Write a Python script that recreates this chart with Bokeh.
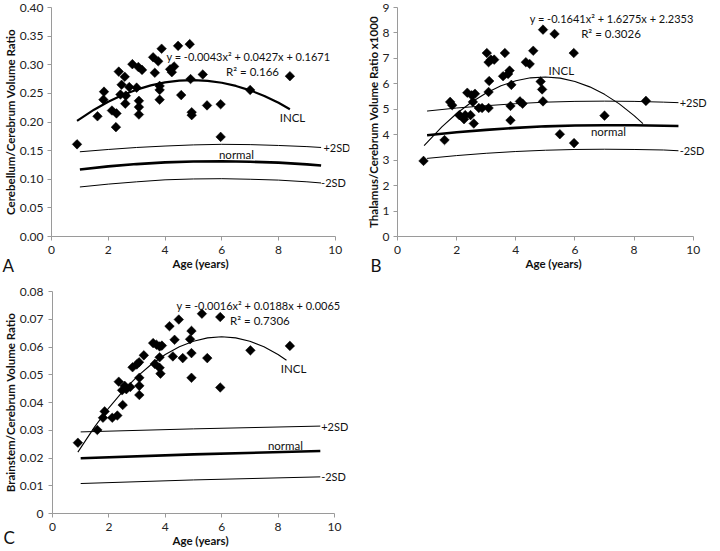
from bokeh.plotting import figure
from bokeh.models import Range1d, FixedTicker, Label, Title
from bokeh.layouts import column, row
from bokeh.embed import file_html
from bokeh.resources import INLINE

FONT = "Lato"

# ---------------- data ----------------
x_ticks = [0, 2, 4, 6, 8, 10]
x_tick_labels = ["0", "2", "4", "6", "8", "10"]

# Panel A: cerebellum / cerebrum
a_yticks = [0.0, 0.05, 0.10, 0.15, 0.20, 0.25, 0.30, 0.35, 0.40]
a_ytick_labels = ["0.00", "0.05", "0.10", "0.15", "0.20", "0.25", "0.30", "0.35", "0.40"]
a_age = [0.90, 1.62, 1.83, 1.85, 2.13, 2.29, 2.27, 2.37, 2.47, 2.43, 2.58, 2.60, 2.62, 2.74, 2.85,
         3.00, 3.08, 3.08, 3.08, 3.06, 3.19, 3.58, 3.64, 3.76, 3.88, 3.81, 3.81, 3.81, 4.18, 4.24,
         4.32, 4.46, 4.57, 4.87, 4.90, 4.94, 4.94, 5.33, 5.48, 5.96, 5.96, 7.00, 8.40]
a_ratio = [0.161, 0.210, 0.239, 0.253, 0.220, 0.215, 0.191, 0.288, 0.265, 0.248, 0.279, 0.232, 0.246, 0.261, 0.301,
           0.260, 0.237, 0.226, 0.213, 0.296, 0.291, 0.313, 0.286, 0.306, 0.328, 0.263, 0.256, 0.239, 0.292, 0.287,
           0.297, 0.333, 0.247, 0.336, 0.275, 0.217, 0.212, 0.283, 0.229, 0.231, 0.174, 0.256, 0.280]
a_fit_age = [0.9, 1.5, 2.0, 2.5, 3.0, 3.5, 4.0, 4.5, 5.0, 5.5, 6.0, 6.5, 7.0, 7.5, 8.0, 8.4]
a_fit = [0.2020, 0.2215, 0.2353, 0.2470, 0.2565, 0.2639, 0.2691, 0.2722, 0.2731, 0.2719, 0.2685,
         0.2630, 0.2553, 0.2455, 0.2335, 0.2224]
norm_age = [1, 2, 3, 4, 5, 6, 7, 8, 9, 9.5]
a_plus2sd = [0.148, 0.152, 0.1555, 0.158, 0.160, 0.161, 0.1605, 0.159, 0.157, 0.1555]
a_normal = [0.117, 0.1225, 0.1265, 0.1295, 0.131, 0.1315, 0.1305, 0.129, 0.126, 0.124]
a_minus2sd = [0.0865, 0.0915, 0.0955, 0.099, 0.1005, 0.101, 0.100, 0.0985, 0.0955, 0.0935]

# Panel B: thalamus / cerebrum x1000
b_yticks = [0, 1, 2, 3, 4, 5, 6, 7, 8, 9]
b_ytick_labels = ["0", "1", "2", "3", "4", "5", "6", "7", "8", "9"]
b_age = [0.88, 1.59, 1.78, 1.85, 2.09, 2.29, 2.25, 2.47, 2.58, 2.36, 2.51, 2.62, 2.55, 2.75, 2.86,
         3.08, 3.08, 3.10, 3.02, 3.08, 3.16, 3.27, 3.63, 3.57, 3.74, 3.79, 3.85, 3.82, 3.82, 4.14,
         4.23, 4.34, 4.47, 4.59, 4.84, 4.89, 4.92, 4.92, 5.31, 5.49, 5.96, 5.97, 7.00, 8.40]
b_ratio = [2.97, 3.79, 5.29, 5.16, 4.77, 4.77, 4.61, 4.77, 4.44, 5.65, 5.55, 5.61, 5.29, 5.05, 5.05,
           5.05, 5.68, 6.11, 7.21, 6.85, 6.95, 6.95, 7.21, 6.30, 6.39, 6.52, 5.96, 5.13, 4.57, 5.31,
           5.22, 6.85, 6.78, 7.30, 6.09, 5.78, 5.31, 8.13, 7.96, 4.02, 7.21, 3.67, 4.75, 5.33]
bc_fit_age = [0.9, 1.5, 2.0, 2.5, 3.0, 3.5, 4.0, 4.5, 5.0, 5.5, 6.0, 6.5, 7.0, 7.5, 8.0, 8.3]
b_fit = [3.567, 4.307, 4.834, 5.278, 5.641, 5.921, 6.120, 6.236, 6.270, 6.223, 6.093, 5.881,
         5.587, 5.211, 4.753, 4.439]
b_plus2sd = [4.93, 5.05, 5.14, 5.22, 5.28, 5.31, 5.32, 5.31, 5.28, 5.26]
b_normal = [3.98, 4.10, 4.19, 4.27, 4.33, 4.36, 4.37, 4.37, 4.35, 4.34]
b_minus2sd = [3.07, 3.18, 3.27, 3.34, 3.39, 3.42, 3.43, 3.42, 3.40, 3.37]

# Panel C: brainstem / cerebrum
c_yticks = [0.0, 0.01, 0.02, 0.03, 0.04, 0.05, 0.06, 0.07, 0.08]
c_ytick_labels = ["0", "0.01", "0.02", "0.03", "0.04", "0.05", "0.06", "0.07", "0.08"]
c_age = [0.90, 1.59, 1.79, 1.85, 2.12, 2.30, 2.35, 2.49, 2.47, 2.56, 2.62, 2.76, 2.84, 2.99, 3.07,
         3.08, 3.08, 3.08, 3.24, 3.57, 3.69, 3.80, 3.88, 3.63, 3.80, 3.83, 3.80, 4.15, 4.27, 4.33,
         4.48, 4.62, 4.88, 4.93, 4.93, 4.93, 5.30, 5.49, 5.95, 5.95, 7.02, 8.42]
c_ratio = [0.0255, 0.0301, 0.0345, 0.0368, 0.0345, 0.0353, 0.0475, 0.0391, 0.0444, 0.0460, 0.0448,
           0.0456, 0.0527, 0.0537, 0.0545, 0.0489, 0.0460, 0.0427, 0.0570, 0.0614, 0.0608, 0.0602,
           0.0605, 0.0539, 0.0525, 0.0504, 0.0563, 0.0675, 0.0566, 0.0626, 0.0699, 0.0560, 0.0628,
           0.0658, 0.0578, 0.0489, 0.0720, 0.0560, 0.0708, 0.0454, 0.0588, 0.0604]
c_fit = [0.0221, 0.0313, 0.0381, 0.0441, 0.0493, 0.0537, 0.0573, 0.0601, 0.0621, 0.0633, 0.0637,
         0.0633, 0.0621, 0.0601, 0.0573, 0.0552]
c_norm_age = [1, 5, 9.5]
c_plus2sd = [0.0294, 0.0305, 0.0315]
c_normal = [0.0199, 0.0213, 0.0225]
c_minus2sd = [0.0108, 0.0121, 0.0132]

# text annotations (text, x, y)
a_texts = [("y = -0.0043x\u00b2 + 0.0427x + 0.1671", 4.05, 0.315), ("R\u00b2 = 0.166", 6.15, 0.289),
           ("INCL", 8.04, 0.207), ("+2SD", 9.58, 0.155), ("normal", 5.90, 0.143), ("-2SD", 9.50, 0.094)]
b_texts = [("y = -0.1641x\u00b2 + 1.6275x + 2.2353", 4.47, 8.58), ("R\u00b2 = 0.3026", 6.21, 7.98),
           ("INCL", 5.11, 6.52), ("+2SD", 9.54, 5.26), ("normal", 6.54, 4.14), ("-2SD", 9.54, 3.37)]
c_texts = [("y = -0.0016x\u00b2 + 0.0188x + 0.0065", 4.40, 0.0750), ("R\u00b2 = 0.7306", 6.30, 0.0697),
           ("INCL", 8.10, 0.0521), ("+2SD", 9.53, 0.0315), ("normal", 7.64, 0.0246), ("-2SD", 9.53, 0.0132)]


def make_panel(x_end, y_end, yticks, ylabels, ytitle, fw, fh, left, right, top, bottom, standoff):
    # the x range runs a little past 10 to leave room for the +2SD / -2SD labels;
    # the axis line itself stops at 10
    p = figure(x_range=Range1d(0, x_end), y_range=Range1d(0, y_end),
               frame_width=fw, frame_height=fh,
               min_border_left=left, min_border_right=right,
               min_border_top=top, min_border_bottom=bottom,
               output_backend="svg", toolbar_location=None)
    p.outline_line_color = None
    p.grid.grid_line_color = None
    p.background_fill_color = "white"
    p.border_fill_color = "white"
    for ax in (p.xaxis[0], p.yaxis[0]):
        ax.axis_line_color = "#9a9a9a"
        ax.major_tick_line_color = "#9a9a9a"
        ax.minor_tick_line_color = None
        ax.major_tick_in = 0
        ax.major_tick_out = 4
        ax.major_label_text_font = FONT
        ax.major_label_text_font_size = "12px"
        ax.major_label_text_color = "#222222"
        ax.axis_label_text_font = FONT
        ax.axis_label_text_font_size = "11.5px"
        ax.axis_label_text_font_style = "bold"
        ax.axis_label_text_color = "#111111"
    p.xaxis.bounds = (0, 10)
    p.xaxis.ticker = FixedTicker(ticks=x_ticks)
    p.xaxis.major_label_overrides = dict(zip(x_ticks, x_tick_labels))
    p.xaxis.axis_label = "Age (years)"
    p.xaxis.major_label_standoff = 5
    p.xaxis.axis_label_standoff = 0
    p.yaxis.ticker = FixedTicker(ticks=yticks)
    p.yaxis.major_label_overrides = dict(zip(yticks, ylabels))
    p.yaxis.axis_label = ytitle
    p.yaxis.major_label_standoff = standoff
    p.yaxis.axis_label_standoff = 0
    return p


def add_content(p, age, ratio, fit_age, fit, fit_w, n_age, plus, normal, minus, texts,
                letter, l_offset, l_standoff):
    p.line(n_age, plus, line_color="black", line_width=1)
    p.line(n_age, normal, line_color="black", line_width=2.6)
    p.line(n_age, minus, line_color="black", line_width=1)
    p.line(fit_age, fit, line_color="black", line_width=fit_w, line_join="round")
    p.scatter(age, ratio, marker="square", size=6.8, angle=0.785398,
              fill_color="black", line_color="black", line_width=0.5)
    for i, (t, x, y) in enumerate(texts):
        size = "11px" if i in (0, 3, 5) else "11.5px"
        p.add_layout(Label(x=x, y=y, text=t, text_font=FONT, text_font_size=size,
                           text_align="left", text_baseline="middle", text_color="#111111"))
    p.add_layout(Title(text=letter, align="left", vertical_align="top", offset=l_offset,
                       standoff=l_standoff, text_font=FONT, text_font_size="17px",
                       text_font_style="normal", text_color="#111111"), "below")


pA = make_panel(10.5, 0.40, a_yticks, a_ytick_labels, "Cerebellum/Cerebrum Volume Ratio",
                298, 229, 46, 8, 7, 47, 4)
add_content(pA, a_age, a_ratio, a_fit_age, a_fit, 2.2, norm_age, a_plus2sd, a_normal, a_minus2sd,
            a_texts, "A", -49, -36)

pB = make_panel(10.55, 9, b_yticks, b_ytick_labels, "Thalamus/Cerebrum Volume Ratio x1000",
                312, 229, 40, 0, 7, 47, 4)
add_content(pB, b_age, b_ratio, bc_fit_age, b_fit, 1.1, norm_age, b_plus2sd, b_normal, b_minus2sd,
            b_texts, "B", -27, -36)

pC = make_panel(10.5, 0.08, c_yticks, c_ytick_labels, "Brainstem/Cerebrum Volume Ratio",
                296, 222, 46, 20, 8, 30, 5)
add_content(pC, c_age, c_ratio, bc_fit_age, c_fit, 1.1, c_norm_age, c_plus2sd, c_normal, c_minus2sd,
            c_texts, "C", -49, -46)

layout = column(row(pA, pB), pC)
open("out.html", "w").write(file_html(layout, INLINE))
